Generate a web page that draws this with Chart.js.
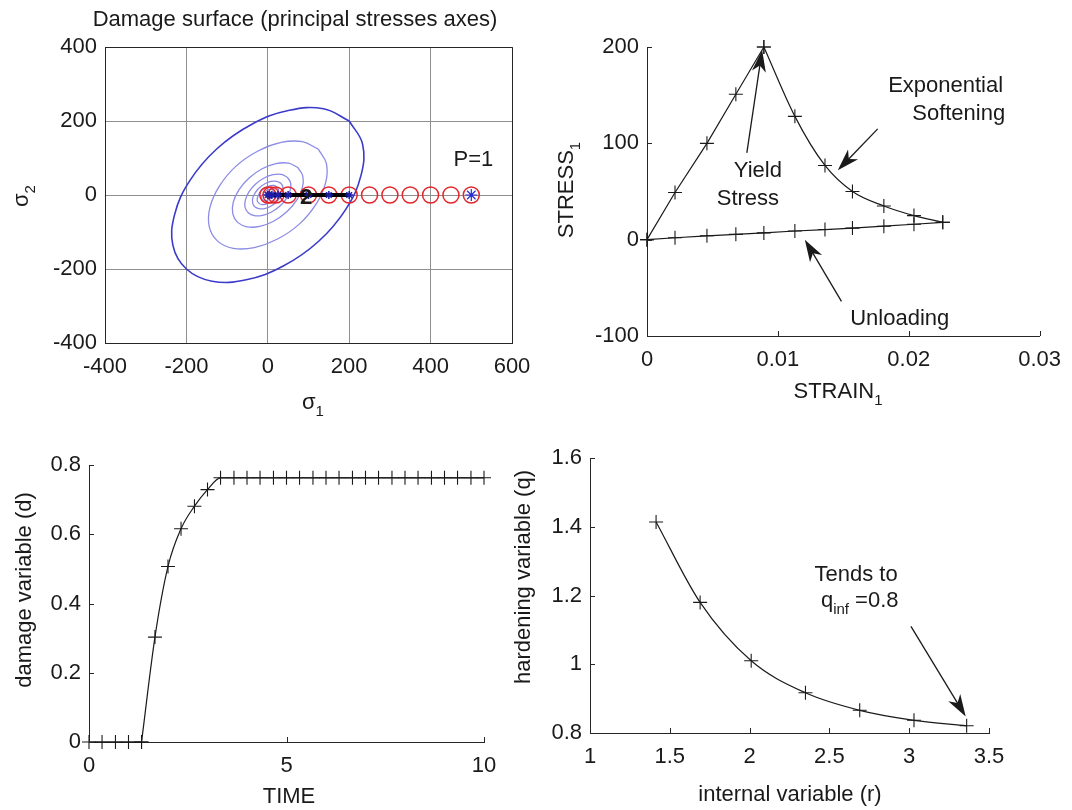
<!DOCTYPE html>
<html>
<head>
<meta charset="utf-8">
<script src="https://cdn.jsdelivr.net/npm/chart.js@4/dist/chart.umd.min.js"></script>
<style>
  body { margin: 0; background: #fff; }
  canvas.layer { position: absolute; left: 0; top: 0; }
</style>
</head>
<body>
<canvas id="surf" class="layer" width="1072" height="810"></canvas>
<canvas id="stress" class="layer" width="1072" height="810"></canvas>
<canvas id="damage" class="layer" width="1072" height="810"></canvas>
<canvas id="harden" class="layer" width="1072" height="810"></canvas>
<script>
// ---- top left: damage surface contours, [sigma1, sigma2]
const surfOuter = [[200,200],[233,137],[229,53],[192,-38],[125,-125],[38,-192],[-53,-229],[-137,-233],[-200,-200],[-233,-137],[-229,-53],[-192,38],[-125,125],[-38,192],[53,229],[137,233],[200,200]];
const surf2 = [[124,124],[144,85],[142,33],[119,-24],[78,-78],[24,-119],[-33,-142],[-85,-144],[-124,-124],[-144,-85],[-142,-33],[-119,24],[-78,78],[-24,119],[33,142],[85,144],[124,124]];
const surf3 = [[74,74],[86,51],[85,20],[71,-14],[46,-46],[14,-71],[-20,-85],[-51,-86],[-74,-74],[-86,-51],[-85,-20],[-71,14],[-46,46],[-14,71],[20,85],[51,86],[74,74]];
const surf4 = [[48,48],[56,33],[55,13],[46,-9],[30,-30],[9,-46],[-13,-55],[-33,-56],[-48,-48],[-56,-33],[-55,-13],[-46,9],[-30,30],[-9,46],[13,55],[33,56],[48,48]];
const surf5 = [[32,32],[37,22],[37,8],[31,-6],[20,-20],[6,-31],[-8,-37],[-22,-37],[-32,-32],[-37,-22],[-37,-8],[-31,6],[-20,20],[-6,31],[8,37],[22,37],[32,32]];
const surf6 = [[22,22],[26,15],[25,6],[21,-4],[14,-14],[4,-21],[-6,-25],[-15,-26],[-22,-22],[-26,-15],[-25,-6],[-21,4],[-14,14],[-4,21],[6,25],[15,26],[22,22]];
const surf7 = [[13,13],[15,9],[15,3],[12,-2],[8,-8],[2,-12],[-3,-15],[-9,-15],[-13,-13],[-15,-9],[-15,-3],[-12,2],[-8,8],[-2,12],[3,15],[9,15],[13,13]];
const circS1 = [0, 8, 20, 50, 100, 150, 200, 250, 300, 350, 400, 450, 500];
const pathS1 = [0, 4, 10, 25, 50, 100, 150, 200];
const finalS1 = [500];

// ---- top right: stress-strain
const loadStrain = [0, 0.00214, 0.00458, 0.00679, 0.00893];
const loadStress = [0, 49, 100, 151, 200];
const softStrain = [0.00893, 0.0113, 0.0136, 0.0157, 0.0181, 0.0204, 0.0226];
const softStress = [200, 128, 77, 50, 35, 25, 18];
const unloadStrain = [0, 0.00214, 0.00458, 0.00679, 0.00893, 0.0113, 0.0136, 0.0157, 0.0181, 0.0204, 0.0226];
const unloadStress = [0, 2, 4, 5.5, 7, 9, 10.5, 12, 14, 16, 18];

// ---- bottom left: damage vs time
const timeT = [0, 0.33, 0.67, 1, 1.33, 1.67, 2, 2.33, 2.67, 3, 3.33, 3.67, 4, 4.33, 4.67, 5, 5.33, 5.67, 6, 6.33, 6.67, 7, 7.33, 7.67, 8, 8.33, 8.67, 9, 9.33, 9.67, 10];
const damageD = [0, 0, 0, 0, 0, 0.303, 0.507, 0.616, 0.681, 0.729, 0.763, 0.763, 0.763, 0.763, 0.763, 0.763, 0.763, 0.763, 0.763, 0.763, 0.763, 0.763, 0.763, 0.763, 0.763, 0.763, 0.763, 0.763, 0.763, 0.763, 0.763];
const onsetIdx = 4; // last undamaged step

// ---- bottom right: hardening variable
const rVals = [1.414, 1.69, 2.01, 2.35, 2.69, 3.03, 3.36];
const qVals = [1.414, 1.18, 1.01, 0.917, 0.866, 0.837, 0.821];

const INK = '#1a1a1a';
const FONT = '"Liberation Sans", Arial, Helvetica, sans-serif';
const FS = 22;
Chart.defaults.font.family = FONT;
Chart.defaults.font.size = FS;
Chart.defaults.color = INK;
Chart.defaults.animation = false;

const fmt = v => String(Math.round(v * 1000) / 1000);
const pts = (xs, ys) => xs.map((x, i) => ({ x: x, y: ys[i] }));

// text with subscripts: parts starting with "_" are subscripts
function rich(ctx, parts, x, y, rot, bold) {
  ctx.save();
  ctx.translate(x, y);
  if (rot) ctx.rotate(rot);
  const w = bold ? 'bold ' : '';
  let total = 0;
  const items = parts.map(p => {
    const sub = p[0] === '_';
    const t = sub ? p.slice(1) : p;
    ctx.font = w + (sub ? Math.round(FS * 0.68) : FS) + 'px ' + FONT;
    const width = ctx.measureText(t).width;
    total += width;
    return { t, sub, width };
  });
  let cx = -total / 2;
  ctx.textAlign = 'left';
  ctx.textBaseline = 'middle';
  ctx.fillStyle = INK;
  items.forEach(it => {
    ctx.font = w + (it.sub ? Math.round(FS * 0.68) : FS) + 'px ' + FONT;
    ctx.fillText(it.t, cx, it.sub ? FS * 0.38 : 0);
    cx += it.width;
  });
  ctx.restore();
}

function arrow(ctx, x1, y1, x2, y2) {
  const a = Math.atan2(y2 - y1, x2 - x1), L = 22, W = 7;
  ctx.save();
  ctx.strokeStyle = INK; ctx.fillStyle = INK; ctx.lineWidth = 1.3;
  ctx.beginPath();
  ctx.moveTo(x1, y1);
  ctx.lineTo(x2 - Math.cos(a) * L * 0.7, y2 - Math.sin(a) * L * 0.7);
  ctx.stroke();
  ctx.translate(x2, y2); ctx.rotate(a);
  ctx.beginPath();
  ctx.moveTo(0, 0); ctx.lineTo(-L, -W); ctx.lineTo(-L * 0.72, 0); ctx.lineTo(-L, W);
  ctx.closePath(); ctx.fill();
  ctx.restore();
}

const decor = {
  id: 'decor',
  afterDraw(chart, args, o) {
    const ctx = chart.ctx, a = chart.chartArea, sx = chart.scales.x, sy = chart.scales.y;
    ctx.save();
    ctx.strokeStyle = '#262626';
    ctx.lineWidth = 1;
    if (o.box) {
      ctx.beginPath();
      ctx.moveTo(a.left, a.top + 0.5); ctx.lineTo(a.right + 0.5, a.top + 0.5); ctx.lineTo(a.right + 0.5, a.bottom);
      ctx.stroke();
    }
    if (o.inTicks) {
      ctx.beginPath();
      sx.ticks.forEach(t => {
        const p = Math.round(sx.getPixelForValue(t.value)) + 0.5;
        ctx.moveTo(p, a.bottom); ctx.lineTo(p, a.bottom - 5);
      });
      sy.ticks.forEach(t => {
        const p = Math.round(sy.getPixelForValue(t.value)) + 0.5;
        ctx.moveTo(a.left, p); ctx.lineTo(a.left + 5, p);
      });
      ctx.stroke();
    }
    (o.notes || []).forEach(n => {
      if (n.arrow) {
        arrow(ctx, sx.getPixelForValue(n.arrow[0]), sy.getPixelForValue(n.arrow[1]),
                   sx.getPixelForValue(n.arrow[2]), sy.getPixelForValue(n.arrow[3]));
      } else {
        rich(ctx, n.text, sx.getPixelForValue(n.at[0]), sy.getPixelForValue(n.at[1]), 0, n.bold);
      }
    });
    (o.titles || []).forEach(t => rich(ctx, t.text, t.x, t.y, t.rot || 0));
    ctx.restore();
  }
};

function axes(box, x, y, grid) {
  const g = grid ? { color: '#8f8f8f', lineWidth: 1, drawTicks: false }
                 : { drawOnChartArea: false, drawTicks: false };
  const mk = (r, pad) => ({
    type: 'linear', min: r[0], max: r[1],
    ticks: { stepSize: r[2], callback: fmt, padding: pad, maxRotation: 0, autoSkip: false, color: INK },
    grid: g, border: { color: '#262626', width: 1 }
  });
  const sx = mk(x, 11), sy = mk(y, 8);
  sx.position = 'bottom';
  sy.position = 'left';
  sx.afterFit = s => { s.height = 810 - box.bottom; };
  sy.afterFit = s => { s.width = box.left; };
  return { x: sx, y: sy };
}

function makeChart(id, box, datasets, scales, deco) {
  return new Chart(document.getElementById(id), {
    type: 'scatter',
    data: { datasets },
    options: {
      responsive: false,
      layout: { padding: { left: 0, bottom: 0, top: box.top, right: 1072 - box.right } },
      scales,
      plugins: { legend: { display: false }, tooltip: { enabled: false }, decor: deco }
    },
    plugins: [decor]
  });
}

const crossLine = (data, extra) => Object.assign({
  data, showLine: true, clip: false,
  borderColor: INK, borderWidth: 1.2,
  pointStyle: 'cross', pointRadius: 7, pointBorderColor: INK, pointBorderWidth: 1.1
}, extra || {});

// ---- chart 1
const box1 = { left: 105, right: 512, top: 47, bottom: 343 };
const contourSets = [surfOuter, surf2, surf3, surf4, surf5, surf6, surf7].map((c, i) => ({
  data: c.map(p => ({ x: p[0], y: p[1] })), showLine: true, pointRadius: 0, tension: 0.4,
  borderColor: i === 0 ? '#3a3acb' : '#8c8ce6', borderWidth: i === 0 ? 1.6 : 1.3, order: 5
}));
makeChart('surf', box1, contourSets.concat([
  { data: circS1.map(v => ({ x: v, y: 0 })), pointStyle: 'circle', pointRadius: 8,
    pointBorderColor: '#e3262b', pointBackgroundColor: 'rgba(0,0,0,0)', pointBorderWidth: 1.5, order: 3, clip: false },
  { data: pathS1.map(v => ({ x: v, y: 0 })), showLine: true, borderColor: '#000', borderWidth: 4,
    pointRadius: 0, order: 2 },
  { data: pathS1.map(v => ({ x: v, y: 0 })), pointStyle: 'star', pointRadius: 4,
    pointBorderColor: '#1d1da8', pointBorderWidth: 1.5, order: 1 },
  { data: finalS1.map(v => ({ x: v, y: 0 })), pointStyle: 'star', pointRadius: 6,
    pointBorderColor: '#2a2ad0', pointBorderWidth: 1.2, order: 1, clip: false }
]), axes(box1, [-400, 600, 200], [-400, 400, 200], true), {
  box: true,
  notes: [
    { text: ['P=1'], at: [505, 95] },
    { text: ['2'], at: [94, -8], bold: true }
  ],
  titles: [
    { text: ['Damage surface (principal stresses axes)'], x: 295, y: 20 },
    { text: ['σ', '_1'], x: 313, y: 403 },
    { text: ['σ', '_2'], x: 22, y: 196, rot: -Math.PI / 2 }
  ]
});

// ---- chart 2
const box2 = { left: 647, right: 1040, top: 47, bottom: 336 };
makeChart('stress', box2, [
  crossLine(pts(loadStrain, loadStress)),
  crossLine(pts(softStrain, softStress), { cubicInterpolationMode: 'monotone' }),
  crossLine(pts(unloadStrain, unloadStress))
], axes(box2, [0, 0.03, 0.01], [-100, 200, 100], false), {
  inTicks: true,
  notes: [
    { text: ['Exponential'], at: [0.02282, 160] },
    { text: ['Softening'], at: [0.02382, 131] },
    { arrow: [0.01763, 115, 0.01458, 72] },
    { text: ['Yield'], at: [0.00847, 71] },
    { text: ['Stress'], at: [0.00771, 42] },
    { arrow: [0.00763, 90, 0.0088, 197] },
    { text: ['Unloading'], at: [0.01931, -82] },
    { arrow: [0.01486, -64, 0.01206, 0] }
  ],
  titles: [
    { text: ['STRAIN', '_1'], x: 838, y: 392 },
    { text: ['STRESS', '_1'], x: 567, y: 190, rot: -Math.PI / 2 }
  ]
});

// ---- chart 3: flat part and growth part drawn as two pieces so the onset keeps its corner
const box3 = { left: 89, right: 484, top: 465, bottom: 742 };
const damagePts = pts(timeT, damageD);
makeChart('damage', box3, [
  crossLine(damagePts.slice(0, onsetIdx + 1)),
  crossLine(damagePts.slice(onsetIdx), { cubicInterpolationMode: 'monotone' })
], axes(box3, [0, 10, 5], [0, 0.8, 0.2], false), {
  inTicks: true,
  titles: [
    { text: ['TIME'], x: 289, y: 797 },
    { text: ['damage variable (d)'], x: 25, y: 590, rot: -Math.PI / 2 }
  ]
});

// ---- chart 4
const box4 = { left: 590, right: 989, top: 458, bottom: 733 };
makeChart('harden', box4, [
  crossLine(pts(rVals, qVals), { cubicInterpolationMode: 'monotone' })
], axes(box4, [1, 3.5, 0.5], [0.8, 1.6, 0.2], false), {
  inTicks: true,
  notes: [
    { text: ['Tends to'], at: [2.667, 1.26] },
    { text: ['q', '_inf', ' =0.8'], at: [2.69, 1.183] },
    { arrow: [3.011, 1.11, 3.354, 0.848] }
  ],
  titles: [
    { text: ['internal variable (r)'], x: 790, y: 795 },
    { text: ['hardening variable (q)'], x: 524, y: 577, rot: -Math.PI / 2 }
  ]
});
</script>
</body>
</html>
